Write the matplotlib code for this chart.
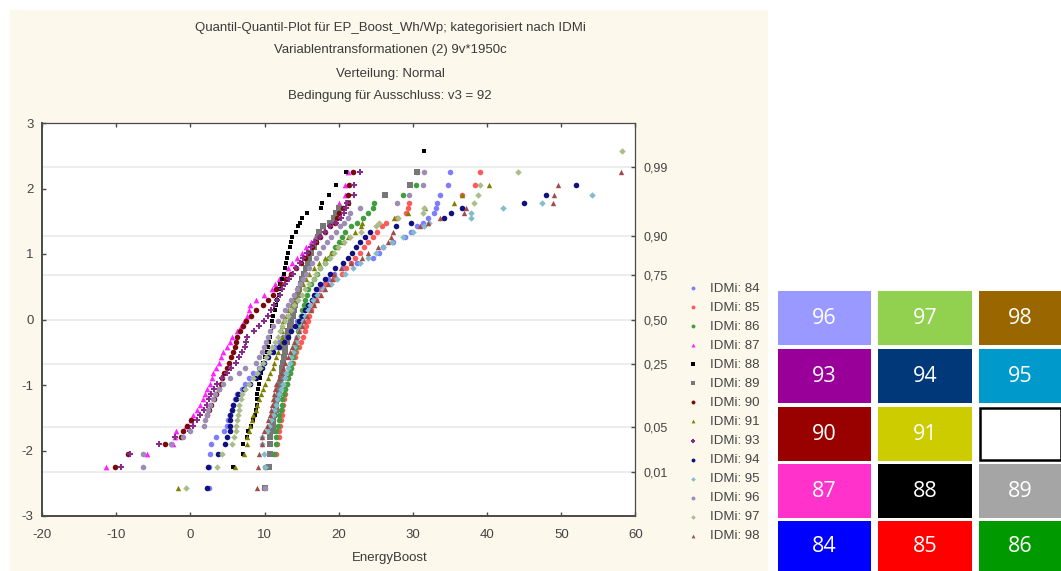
import matplotlib
matplotlib.use("Agg")
import matplotlib.pyplot as plt
from matplotlib.patches import Rectangle

plt.rcParams["font.family"] = ["Liberation Sans", "DejaVu Sans"]
plt.rcParams["axes.unicode_minus"] = False

na = float("nan")

# expected normal values, shared by all groups
z = [-2.58, -2.25, -2.05, -1.90, -1.80, -1.70,
     -1.62, -1.54, -1.46, -1.38, -1.30, -1.22, -1.14, -1.06, -0.98, -0.90,
     -0.82, -0.74, -0.66, -0.58, -0.50, -0.42, -0.34, -0.26, -0.18, -0.10,
     -0.02, 0.06, 0.14, 0.22, 0.30, 0.38, 0.46, 0.54, 0.62, 0.70,
     0.78, 0.86, 0.94, 1.02, 1.10, 1.18, 1.26, 1.34, 1.42, 1.48, 1.55,
     1.62, 1.70, 1.78, 1.90, 2.05, 2.25, 2.58]

x84 = [2.5, 2.5, 2.6, 2.8, 3.4, 4.5,
       4.9, 5.1, 5.4, 5.6, 5.8, 6.0, 6.3, 6.9, 7.4, 7.9,
       8.5, 9.2, 9.8, 10.3, 10.8, 11.4, 12.0, 12.5, 13.0, 13.6,
       14.4, 14.9, 15.4, 15.9, 16.4, 16.9, 17.4, 18.0, 18.6, 19.3,
       20.6, 22.4, 24.6, 25.4, 26.0, 27.3, 28.9, 29.7, 30.5, 31.3, 32.0,
       32.9, 33.1, 33.2, 33.7, 34.7, 35.0, na]
x85 = [9.9, 10.3, 11.6, 11.7, 11.9, 11.9,
       12.1, 12.2, 12.3, 12.4, 12.5, 12.6, 12.7, 12.8, 13.0, 13.2,
       13.4, 13.6, 13.8, 14.1, 14.3, 14.6, 14.9, 15.2, 15.4, 15.6,
       15.8, 16.0, 16.3, 16.5, 16.9, 17.3, 17.8, 18.3, 19.4, 20.4,
       21.0, 21.6, 22.2, 22.8, 23.4, 24.0, 24.6, 25.2, 25.8, 26.4, 27.8,
       29.0, 29.3, 29.5, 36.6, 38.3, 39.0, na]
x86 = [na, 10.1, 11.3, 11.5, 11.5, 11.6,
       11.8, 11.9, 12.0, 12.2, 12.3, 12.4, 12.6, 12.8, 13.0, 13.2,
       13.4, 13.6, 13.7, 13.9, 14.0, 14.2, 14.3, 14.4, 14.5, 14.6,
       14.7, 14.9, 15.1, 15.3, 15.5, 15.7, 15.9, 16.2, 16.6, 17.1,
       17.5, 18.1, 18.7, 19.1, 19.5, 20.0, 20.4, 20.8, 21.7, 22.5, 23.3,
       24.0, 24.6, 24.7, 28.7, 30.4, 30.6, na]
x87 = [na, -11.4, -5.8, -2.4, -2.1, -1.9,
       -0.6, 0.1, 0.4, 0.9, 1.3, 1.7, 2.0, 2.3, 2.6, 2.9,
       3.1, 3.5, 3.9, 4.1, 4.4, 4.9, 5.4, 5.6, 6.3, 6.8,
       7.2, 7.6, 7.9, 8.1, 8.9, 9.9, 11.0, 11.4, 12.0, 12.5,
       13.1, 13.7, 14.4, 15.1, 15.6, 16.2, 16.8, 17.3, 17.9, 18.7, 19.2,
       19.5, 19.9, 20.1, 20.8, 20.8, 21.3, na]
x88 = [na, 5.8, 7.1, 7.1, 7.6, 7.8,
       8.2, 8.5, 8.7, 8.9, 9.0, 9.0, 9.0, 9.1, 9.2, 9.4,
       9.5, 9.7, 9.8, 10.0, 10.3, 10.5, 10.6, 10.8, 10.9, 11.0,
       11.0, 11.2, 11.4, 11.6, 11.7, 11.9, 12.0, 12.1, 12.4, 12.6,
       12.7, 12.9, 13.0, 13.2, 13.4, 13.5, 13.7, 14.2, 14.5, 14.8, 15.0,
       15.7, 17.6, 17.7, 18.7, 19.6, 21.0, 31.5]
x89 = [10.1, 10.6, 10.7, 10.7, 10.8, 11.0,
       11.1, 11.2, 11.3, 11.5, 11.5, 11.7, 11.9, 12.0, 12.1, 12.2,
       12.3, 12.4, 12.5, 12.6, 12.7, 12.8, 13.0, 13.1, 13.2, 13.4,
       13.6, 13.8, 14.0, 14.1, 14.3, 14.5, 14.7, 14.9, 15.1, 15.3,
       15.6, 15.8, 16.0, 16.3, 16.6, 16.9, 17.2, 17.3, 17.9, 18.8, 19.3,
       19.6, 20.0, 21.2, 26.2, 29.6, 30.6, na]
x90 = [na, -10.1, -8.4, -3.4, -1.2, -1.0,
       -0.5, 0.1, 2.2, 2.5, 2.8, 3.2, 3.5, 3.8, 4.1, 4.3,
       4.5, 4.9, 5.2, 5.5, 5.7, 6.0, 6.2, 6.3, 6.7, 7.1,
       7.5, 8.2, 8.9, 9.8, 10.4, 11.1, 11.6, 12.2, 12.9, 13.5,
       14.3, 14.9, 15.5, 15.9, 16.4, 17.0, 17.5, 18.1, 18.8, 19.5, 19.8,
       20.1, 20.6, 21.2, 21.2, 21.4, 21.9, na]
x91 = [-1.7, 6.0, 7.2, 7.7, 7.7, 7.9,
       8.1, 8.3, 8.5, 8.8, 9.0, 9.2, 9.5, 9.8, 10.1, 10.4,
       10.8, 11.1, 11.3, 11.6, 11.8, 12.0, 12.2, 12.3, 12.4, 12.4,
       12.5, 12.9, 13.2, 13.5, 13.9, 14.3, 14.7, 15.2, 15.6, 16.0,
       16.6, 17.3, 18.2, 19.0, 19.8, 20.6, 21.3, 22.2, 23.0, 23.1, 27.4,
       29.3, 31.6, 35.6, 36.6, 40.3, na, na]
x93 = [na, -9.3, -8.1, -4.2, -2.1, 0.0,
       0.3, 0.9, 1.3, 1.8, 2.2, 2.5, 2.8, 3.2, 3.6, 4.2,
       4.9, 5.5, 6.1, 6.6, 7.0, 7.3, 7.5, 7.7, 8.6, 9.2,
       9.9, 10.5, 10.9, 11.3, 11.7, 12.1, 12.4, 12.8, 13.3, 13.9,
       14.3, 14.8, 15.2, 15.7, 16.2, 16.8, 17.5, 18.1, 18.8, 19.6, 20.3,
       20.7, 21.0, 21.1, 22.1, 22.1, 22.9, na]
x94 = [2.2, 2.4, 3.7, 4.6, 5.0, 5.3,
       5.4, 5.4, 5.4, 5.6, 5.8, 6.1, 6.4, 7.2, 8.1, 8.8,
       9.3, 9.6, 9.9, 10.5, 11.2, 11.9, 12.6, 13.1, 13.6, 14.1,
       14.7, 15.1, 15.5, 15.9, 16.4, 16.7, 17.0, 17.5, 18.1, 18.8,
       19.5, 20.6, 21.3, 21.8, 22.3, 22.9, 23.6, 24.2, 27.7, 29.8, 34.2,
       35.1, 36.6, 45.0, 47.9, 52.0, na, na]
x95 = [na, 10.1, 9.9, 9.7, 9.7, 10.3,
       10.6, 10.9, 11.1, 11.3, 11.5, 11.7, 12.0, 12.2, 12.5, 12.7,
       12.9, 13.1, 13.4, 13.6, 13.8, 14.0, 14.2, 14.4, 14.6, 14.9,
       15.2, 15.5, 15.8, 16.1, 16.5, 17.1, 17.9, 18.9, 19.8, 20.8,
       21.9, 22.8, 23.9, 25.0, 26.0, 27.2, 28.7, 30.0, 31.5, 32.2, 37.8,
       37.8, 42.2, 47.4, 54.1, na, na, na]
x96 = [10.1, -6.4, -6.4, -2.6, -1.0, 0.0,
       1.8, 2.0, 2.2, 2.4, 2.7, 3.0, 3.3, 3.8, 4.4, 5.3,
       6.5, 7.4, 8.8, 9.3, 9.6, 9.9, 10.2, 10.5, 10.8, 11.2,
       11.8, 12.3, 12.8, 13.2, 13.6, 14.0, 14.4, 14.8, 15.2, 15.6,
       16.0, 16.4, 16.9, 17.4, 17.9, 18.4, 19.0, 19.6, 20.2, 20.7, 21.2,
       21.5, 22.8, 27.9, 29.5, 31.4, 31.5, na]
x97 = [-0.6, 3.6, 4.3, 5.6, 5.9, 6.1,
       6.2, 6.3, 6.4, 6.5, 6.6, 6.8, 7.0, 7.4, 7.9, 8.4,
       9.0, 9.4, 9.8, 10.2, 10.6, 11.0, 11.4, 11.8, 12.1, 12.4,
       12.7, 13.1, 13.6, 14.0, 14.5, 15.0, 15.5, 16.0, 16.6, 17.0,
       17.5, 18.2, 18.8, 19.3, 19.9, 20.7, 21.5, 23.0, 25.0, 25.4, 28.0,
       31.3, 31.5, 38.2, 38.8, 39.0, 44.2, 58.2]
x98 = [9.0, 9.1, 9.3, 9.6, 9.6, 9.9,
       10.3, 10.5, 10.7, 10.9, 11.0, 11.1, 11.3, 11.4, 11.6, 11.9,
       12.2, 12.5, 12.8, 13.1, 13.4, 13.7, 14.0, 14.3, 14.6, 15.0,
       15.3, 15.7, 16.2, 16.6, 17.1, 17.6, 18.1, 18.6, 19.1, 19.4,
       20.3, 21.6, 23.2, 24.0, 25.3, 26.6, 27.0, 27.3, 31.0, 32.0, 33.6,
       36.9, 37.1, 48.9, 49.0, 49.6, 58.0, na]

groups = [84, 85, 86, 87, 88, 89, 90, 91, 93, 94, 95, 96, 97, 98]
values = [x84, x85, x86, x87, x88, x89, x90, x91, x93, x94, x95, x96, x97, x98]
colors = ["#7d7dff", "#ff5a5a", "#3f9f3f", "#ff22ff", "#000000", "#777777", "#7a0a0a",
          "#808000", "#8a2a8a", "#101080", "#80bccb", "#9d8db5", "#a9bd8a", "#a04a4a"]
markers = ["o", "o", "o", "^", "s", "s", "o", "^", "P", "o", "D", "o", "D", "^"]
sizes = [16, 16, 16, 17, 12, 14, 16, 15, 15, 16, 11, 16, 11, 15]

prob_pos = [-2.326, -1.645, -0.674, 0, 0.674, 1.282, 2.326]
prob_labels = ["0,01", "0,05", "0,25", "0,50", "0,75", "0,90", "0,99"]
title_lines = ["Quantil-Quantil-Plot für EP_Boost_Wh/Wp; kategorisiert nach IDMi",
               "Variablentransformationen (2) 9v*1950c",
               "Verteilung: Normal",
               "Bedingung für Ausschluss: v3 = 92"]

box_labels = [["96", "97", "98"], ["93", "94", "95"], ["90", "91", ""],
              ["87", "88", "89"], ["84", "85", "86"]]
box_colors = [["#9999ff", "#92d050", "#996600"], ["#990099", "#00387a", "#0099cc"],
              ["#990000", "#cccc00", "#ffffff"], ["#ff33cc", "#000000", "#a5a5a5"],
              ["#0000ff", "#ff0000", "#009900"]]

W, H = 1061, 571
grey = "#4a4a4a"
fig = plt.figure(figsize=(W / 100, H / 100), dpi=100, facecolor="white")

# page layer in pixel units: cream panel and colour key
page = fig.add_axes([0, 0, 1, 1])
page.set_xlim(0, W)
page.set_ylim(H, 0)
page.axis("off")
page.add_patch(Rectangle((10, 10), 758, 561, fc="#fdf8ec", ec="none"))

col_left = [778, 878, 979]
col_right = [871, 972, 1061]
row_top = [291, 349, 407, 464, 521]
row_bottom = [345, 403, 461, 518, 571]
for r, row in enumerate(box_labels):
    for c, lab in enumerate(row):
        x0, x1 = col_left[c], col_right[c]
        y0, y1 = row_top[r], row_bottom[r]
        if lab:
            page.add_patch(Rectangle((x0, y0), x1 - x0, y1 - y0, fc=box_colors[r][c], ec="none"))
            page.text((x0 + x1) / 2, (y0 + y1) / 2 + 0.5, lab, color="white", fontsize=15.5,
                      ha="center", va="center", family="Open Sans")
        else:
            page.add_patch(Rectangle((x0 + 1, y0 + 1), x1 - x0 - 1, y1 - y0 - 2, fc="white", ec="black", lw=1.8))

for i, line in enumerate(title_lines):
    fig.text(390 / W, 1 - (27.5 + 23 * i) / H, line, ha="center", va="center", fontsize=9.5, color="#3a3a3a")
fig.text(390 / W, 1 - 558.5 / H, "EnergyBoost", ha="center", va="center", fontsize=9.5, color="#3a3a3a")

ax = fig.add_axes([42 / W, 1 - 516 / H, (635.5 - 42) / W, (516 - 123) / H])
ax.set_facecolor("white")
for g, v, c, m, sz in zip(groups, values, colors, markers, sizes):
    ax.scatter(v, z, s=sz, c=c, marker=m, linewidths=0, label="IDMi: %d" % g, zorder=3, clip_on=False)

ax.set_xlim(-20, 60)
ax.set_ylim(-3, 3)
ax.set_xticks(range(-20, 61, 10))
ax.set_yticks(range(-3, 4))
ax.tick_params(direction="in", length=3, width=1, color=grey, labelcolor="#444444", labelsize=9.5,
               top=True, pad=6)
ax.tick_params(axis="x", pad=9)
for s in ax.spines.values():
    s.set_color(grey)
    s.set_linewidth(0.9)
ax.spines["left"].set_linewidth(1.4)
ax.spines["bottom"].set_linewidth(1.4)
for p in prob_pos:
    ax.axhline(p, color="#ececec", lw=1.3, zorder=1)

ax2 = ax.twinx()
ax2.set_ylim(-3, 3)
ax2.set_yticks(prob_pos)
ax2.set_yticklabels(prob_labels)
ax2.tick_params(direction="in", length=3, width=1, color=grey, labelcolor="#444444", labelsize=9, pad=6)
for s in ax2.spines.values():
    s.set_visible(False)

handles, labels = ax.get_legend_handles_labels()
leg = fig.legend(handles, labels, loc="upper left", bbox_to_anchor=(683.6 / W, 1 - 282.5 / H),
                 frameon=False, fontsize=9.5, labelspacing=0.515, handletextpad=0.5,
                 handlelength=1.5, borderpad=0, borderaxespad=0, markerscale=0.7)
for t in leg.get_texts():
    t.set_color("#444444")

fig.savefig("out.png", dpi=100, facecolor="white")
